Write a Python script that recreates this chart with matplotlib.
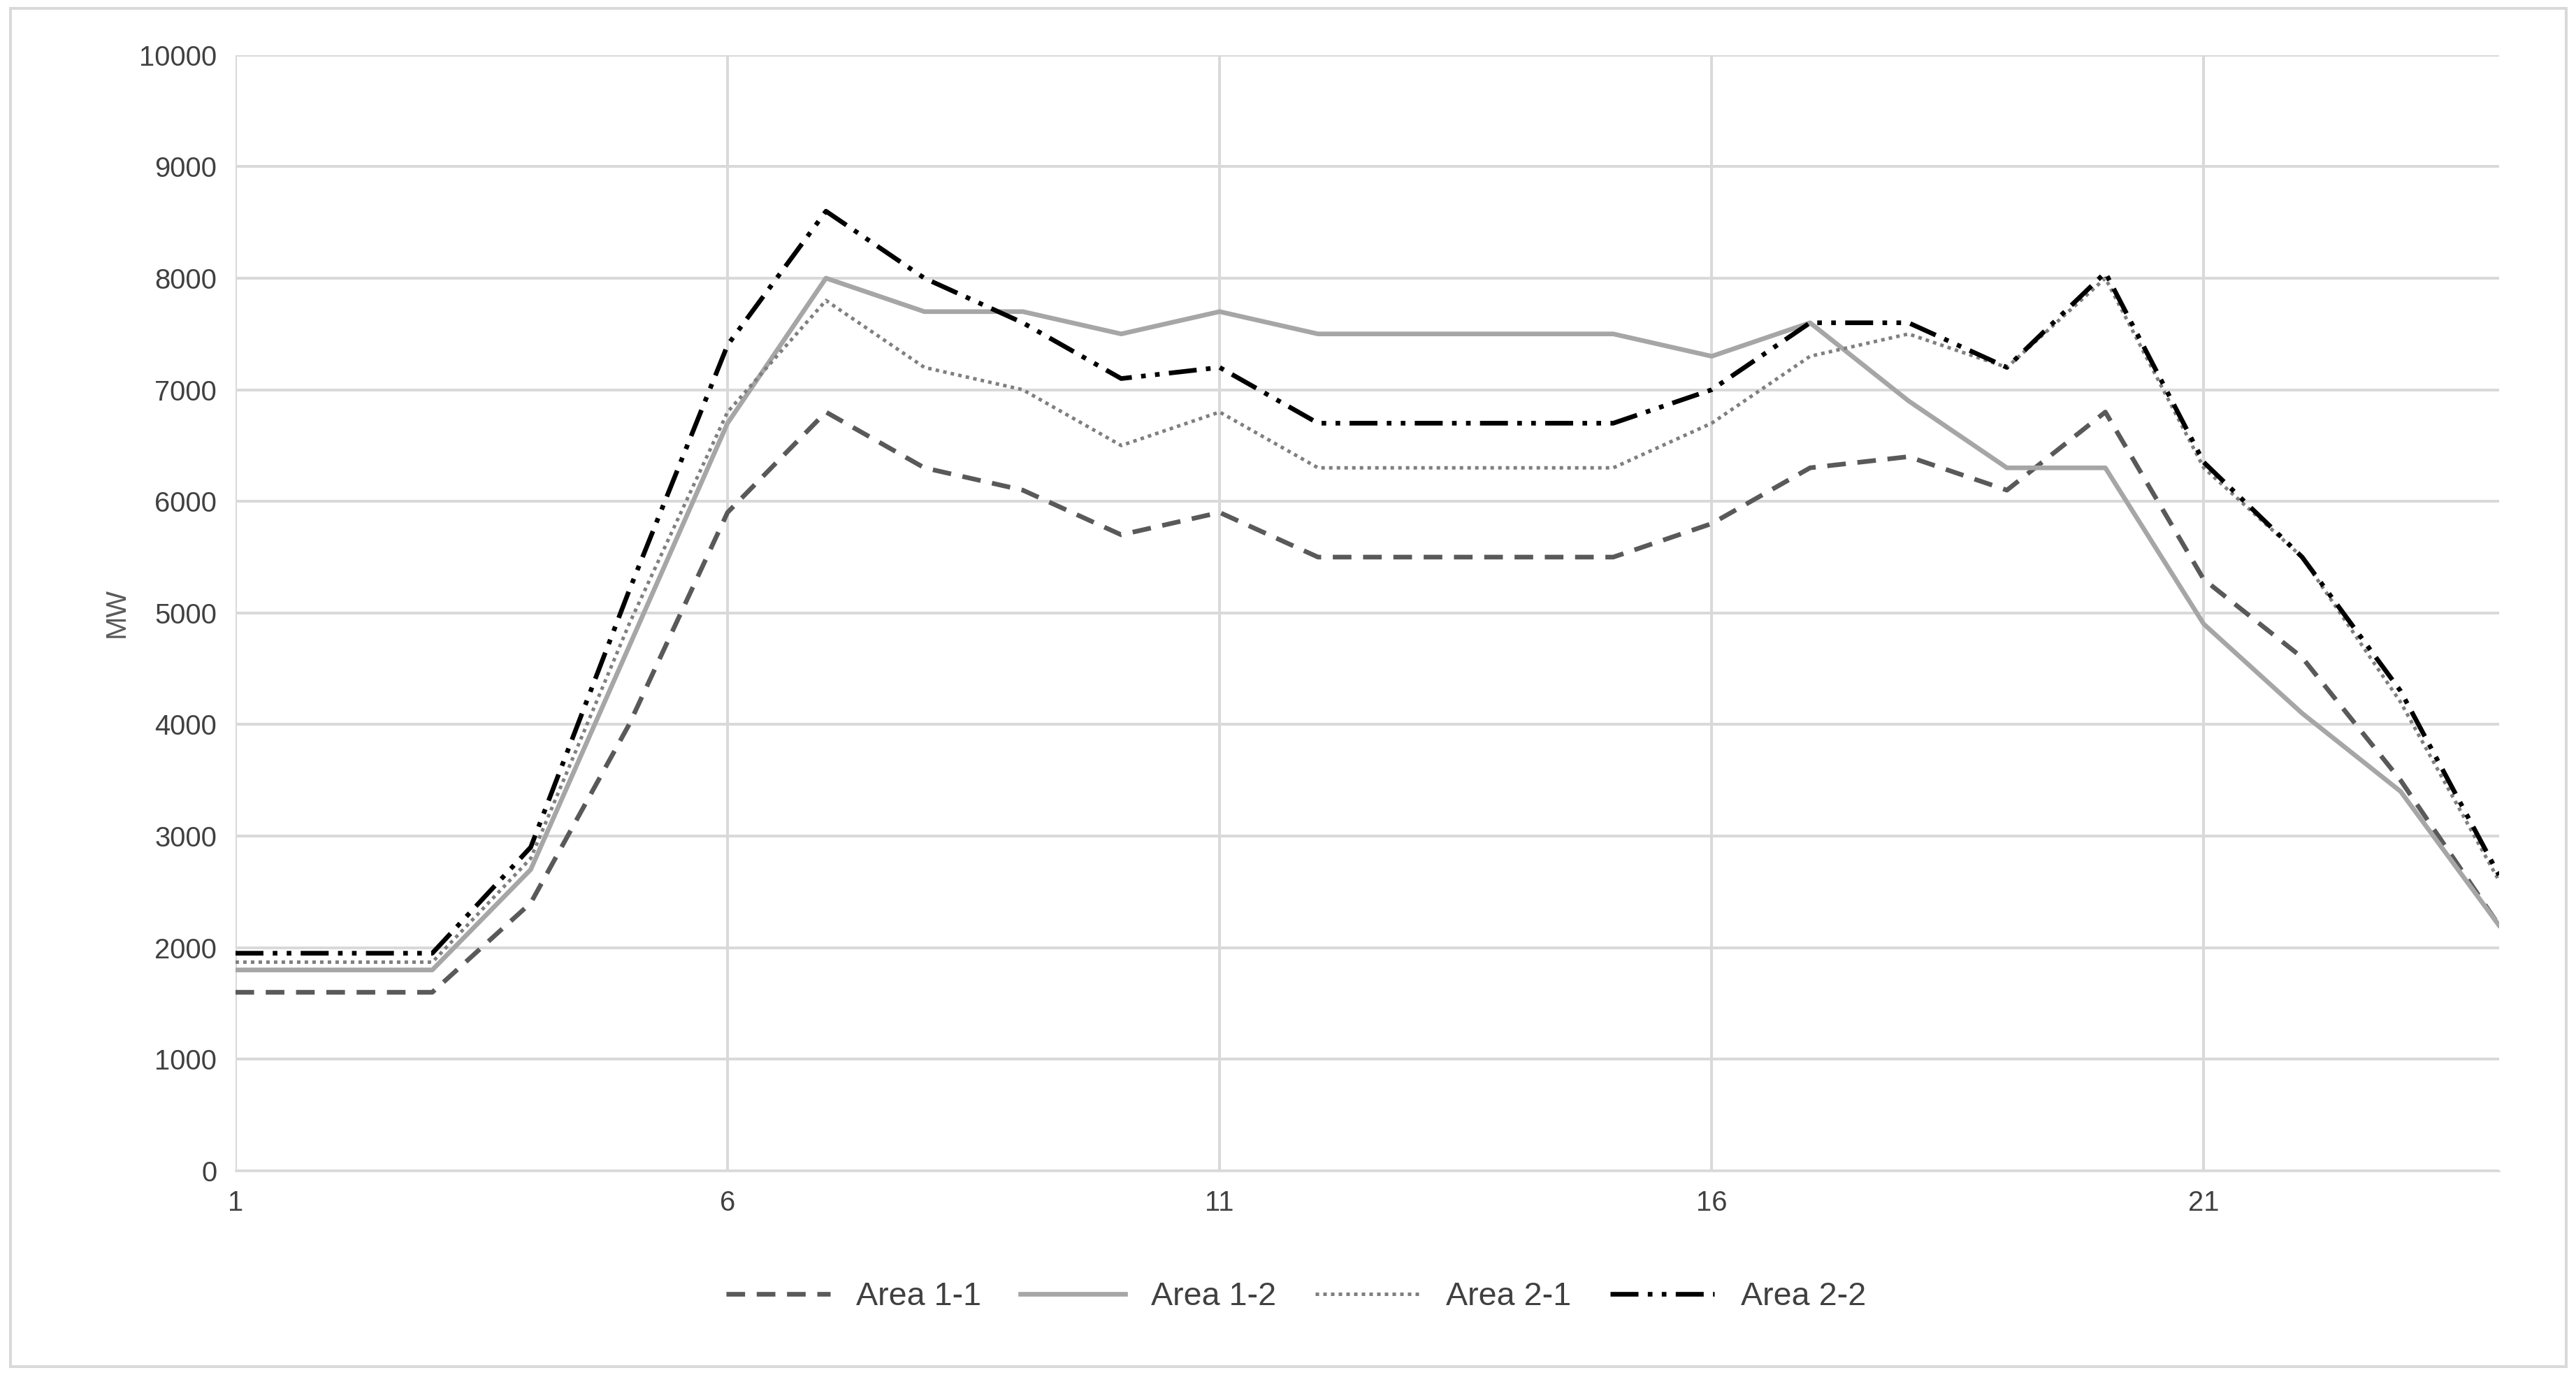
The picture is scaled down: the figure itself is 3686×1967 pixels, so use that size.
import matplotlib
matplotlib.use("Agg")
import matplotlib.pyplot as plt
from matplotlib.patches import Rectangle

hours = list(range(1, 25))
area_1_1 = [1600,1600,1600,2400,4000,5900,6800,6300,6100,5700,5900,5500,5500,5500,5500,5800,6300,6400,6100,6800,5300,4600,3500,2200]
area_1_2 = [1800,1800,1800,2700,4700,6700,8000,7700,7700,7500,7700,7500,7500,7500,7500,7300,7600,6900,6300,6300,4900,4100,3400,2200]
area_2_1 = [1870,1870,1870,2800,4900,6800,7800,7200,7000,6500,6800,6300,6300,6300,6300,6700,7300,7500,7200,8000,6300,5500,4200,2600]
area_2_2 = [1950,1950,1950,2900,5200,7400,8600,8000,7600,7100,7200,6700,6700,6700,6700,7000,7600,7600,7200,8050,6350,5500,4300,2650]
xticks = [1, 6, 11, 16, 21]
yticks = list(range(0, 10001, 1000))

plt.rcParams['font.family'] = ['Liberation Sans', 'DejaVu Sans']
fig = plt.figure(figsize=(15.36, 8.196), dpi=240)
ax = fig.add_axes([0.0914, 0.1485, 0.8811 - 0.0025, 0.8115])

ax.plot(hours, area_1_1, color='#595959', lw=2, ls=(0, (4, 2.5)), label='Area 1-1')
ax.plot(hours, area_1_2, color='#a6a6a6', lw=2, ls='-', label='Area 1-2')
ax.plot(hours, area_2_1, color='#7f7f7f', lw=1.5, ls=(0, (1, 1.2)), label='Area 2-1')
ax.plot(hours, area_2_2, color='black', lw=2, ls=(0, (6, 2, 1, 2, 1, 2)), label='Area 2-2')

ax.set_xlim(1, 24)
ax.set_ylim(0, 10000)
ax.set_xticks(xticks)
ax.set_yticks(yticks)
ax.grid(True, color='#d9d9d9', lw=1.2)
ax.set_axisbelow(True)
for s in ['top', 'right', 'left']:
    ax.spines[s].set_visible(False)
ax.spines['bottom'].set_color('#d9d9d9')
ax.tick_params(length=0, labelsize=12, colors='#404040', pad=8)
ax.set_ylabel('MW', fontsize=12, color='#595959')

fig.legend(loc='center', bbox_to_anchor=(0.503, 0.057), ncol=4, frameon=False,
           fontsize=14, handlelength=3.2, columnspacing=1.2, labelcolor='#404040')
fig.patches.append(Rectangle((0.004, 0.006), 0.992, 0.988, transform=fig.transFigure,
                             fill=False, edgecolor='#d9d9d9', lw=1.2))
fig.savefig('out.png', dpi=240)
